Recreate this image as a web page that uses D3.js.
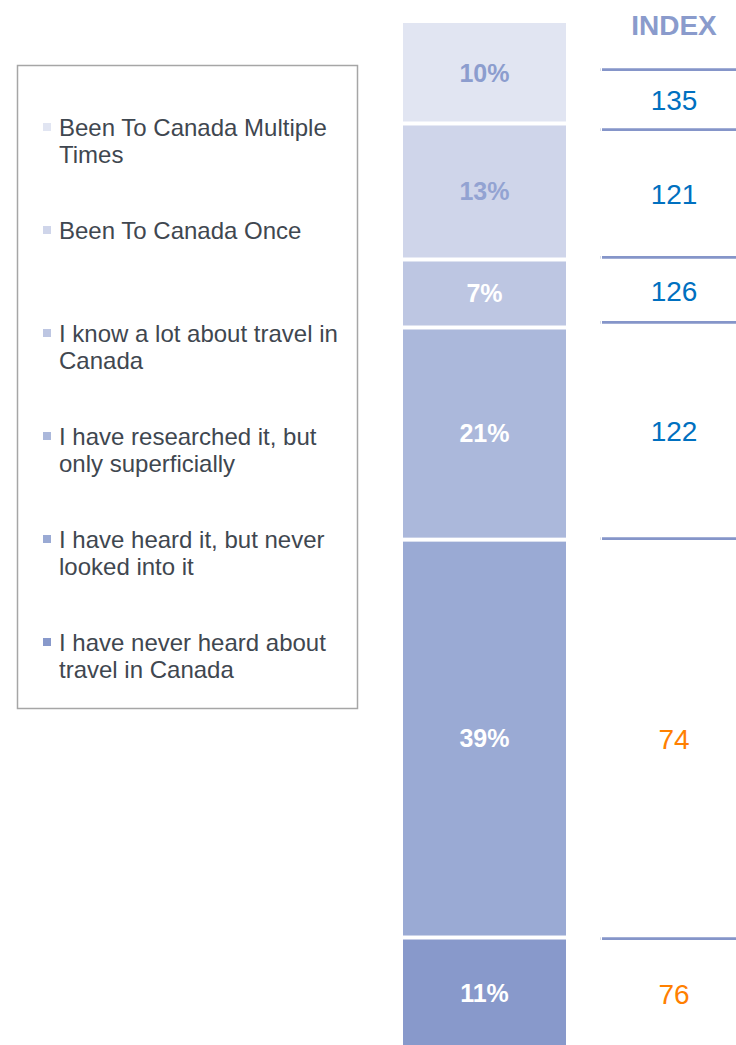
<!DOCTYPE html>
<html>
<head>
<meta charset="utf-8">
<script src="https://cdn.jsdelivr.net/npm/d3@7"></script>
<style>
  html, body { margin: 0; padding: 0; background: #ffffff; }
  svg { display: block; }
  text { font-family: Arial, "Liberation Sans", sans-serif; }
</style>
</head>
<body>
<svg id="chart" width="736" height="1045"></svg>
<script>
// ---- data ----
const categories = [
  "Been To Canada Multiple Times",
  "Been To Canada Once",
  "I know a lot about travel in Canada",
  "I have researched it, but only superficially",
  "I have heard it, but never looked into it",
  "I have never heard about travel in Canada"
];
const shares = [9.9, 13.4, 6.7, 20.9, 39.2, 10.9];
const indexValues = [135, 121, 126, 122, 74, 76];
const indexRules = [4.6, 10.5, 23.1, 29.5, 50.8, 90.2];
const segmentColors = ["#e1e5f2", "#cfd5ea", "#bdc6e2", "#abb8db", "#9aaad4", "#8899cb"];
const segmentLabelColors = ["#8c9dce", "#93a3d2", "#ffffff", "#ffffff", "#ffffff", "#ffffff"];
const indexHeader = "INDEX";

// ---- layout ----
const svg = d3.select("#chart");
const y = d3.scaleLinear().domain([0, 100]).range([23, 1038]);
const barX = 403, barW = 163, gap = 4;
const idxX0 = 602, idxX1 = 736, idxCX = 674;

// stacked bar
let cum = 0;
const segs = shares.map((v, i) => {
  const s = { i, v, y0: cum, y1: cum + v };
  cum += v;
  return s;
});

svg.append("g").selectAll("rect").data(segs).join("rect")
  .attr("x", barX)
  .attr("y", d => y(d.y0) + (d.i > 0 ? gap / 2 : 0))
  .attr("width", barW)
  .attr("height", d => y(d.y1) - y(d.y0) - (d.i > 0 ? gap : gap / 2))
  .attr("fill", d => segmentColors[d.i]);

svg.append("g").selectAll("text").data(segs).join("text")
  .attr("x", barX + barW / 2)
  .attr("y", d => (y(d.y0) + y(d.y1)) / 2)
  .attr("dy", "0.35em")
  .attr("text-anchor", "middle")
  .attr("font-size", 25)
  .attr("font-weight", "bold")
  .attr("fill", d => segmentLabelColors[d.i])
  .text(d => d3.format(".0f")(d.v) + "%");

// index column
svg.append("text")
  .attr("x", idxCX).attr("y", 25).attr("dy", "0.35em")
  .attr("text-anchor", "middle")
  .attr("font-size", 28).attr("font-weight", "bold")
  .attr("fill", "#8a9bcc")
  .text(indexHeader);

const rules = svg.append("g");
rules.selectAll("line.rule").data(indexRules).join("line")
  .attr("class", "rule")
  .attr("x1", idxX0).attr("x2", idxX1)
  .attr("y1", d => y(d)).attr("y2", d => y(d))
  .attr("stroke", "#8595c9").attr("stroke-width", 2.7);
rules.selectAll("line.tick").data(indexRules).join("line")
  .attr("class", "tick")
  .attr("x1", 600).attr("x2", 601)
  .attr("y1", d => y(d)).attr("y2", d => y(d))
  .attr("stroke", "#d8dce8").attr("stroke-width", 2.7);

const bandEnds = indexRules.slice(1).concat([101]);
svg.append("g").selectAll("text").data(indexValues).join("text")
  .attr("x", idxCX)
  .attr("y", (d, i) => (y(indexRules[i]) + y(bandEnds[i])) / 2 + 1)
  .attr("dy", "0.35em")
  .attr("text-anchor", "middle")
  .attr("font-size", 28)
  .attr("fill", d => d >= 100 ? "#0070c0" : "#ff8000")
  .text(d => d);

// legend
svg.append("rect")
  .attr("x", 17.5).attr("y", 65.5).attr("width", 340).attr("height", 643)
  .attr("fill", "#ffffff").attr("stroke", "#a6a6a6").attr("stroke-width", 1.5);

const legend = svg.append("g");
const maxW = 290, lineH = 27;
categories.forEach((c, i) => {
  const base = 136 + i * 103;
  legend.append("rect")
    .attr("x", 43).attr("y", base - 13)
    .attr("width", 8).attr("height", 8)
    .attr("fill", segmentColors[i]);
  const t = legend.append("text")
    .attr("x", 59).attr("y", base)
    .attr("font-size", 24).attr("fill", "#3f4750");
  const words = c.split(" ");
  let line = [], lineNo = 0;
  let ts = t.append("tspan").attr("x", 59).attr("y", base);
  words.forEach(w => {
    line.push(w);
    ts.text(line.join(" "));
    if (ts.node().getComputedTextLength() > maxW && line.length > 1) {
      line.pop();
      ts.text(line.join(" "));
      line = [w];
      lineNo++;
      ts = t.append("tspan").attr("x", 59).attr("y", base + lineNo * lineH).text(w);
    }
  });
});
</script>
</body>
</html>
